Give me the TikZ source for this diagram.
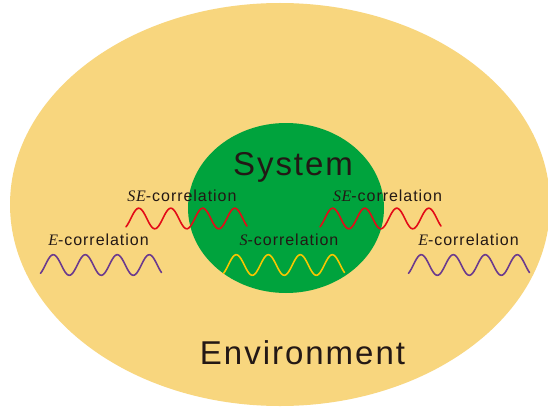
\documentclass[tikz,border=0pt]{standalone}
\usepackage{fontspec}
\setmainfont{Liberation Sans}
\newfontfamily\labfont[LetterSpace=6]{Liberation Sans}
\newfontfamily\bigfont[LetterSpace=6]{Liberation Sans}
\newfontfamily\varfont[LetterSpace=4]{Liberation Serif}
\newcommand{\vr}[1]{{\varfont\itshape #1}}
\definecolor{envcol}{HTML}{F8D67E}
\definecolor{syscol}{HTML}{00A33D}
\definecolor{redw}{HTML}{E30B17}
\definecolor{yelw}{HTML}{F7C600}
\definecolor{purw}{HTML}{6B3A8E}
\definecolor{txt}{HTML}{231815}
\tikzset{
  corrwave/.pic={\draw[pic actions, line width=1.6pt, line cap=round]
     plot[domain=0:121, samples=90, smooth] (\x, {-10.3*cos(11.25*(\x-12.8))});},
  lab/.style={anchor=base, text=txt, font=\labfont\fontsize{16pt}{19pt}\selectfont, inner sep=0pt},
  big/.style={anchor=base, text=txt, inner sep=0pt}
}
\begin{document}
\begin{tikzpicture}[x=1pt,y=-1pt]
\useasboundingbox (0,0) rectangle (548,409);
\fill[white] (0,0) rectangle (548,409);
\fill[envcol] (280,204.5) ellipse [x radius=270, y radius=201.5];
\fill[syscol] (286,208) ellipse [x radius=98, y radius=85];
\node[coordinate] (env) at (280,204.5) {};
\node[coordinate] (sys) at (286,208) {};
\node[big, font=\bigfont\fontsize{33pt}{38pt}\selectfont] (systxt) at (293,175) {System};
\node[big, font=\bigfont\fontsize{33pt}{38pt}\selectfont] (envtxt) at (302.5,364) {Environment};
\node[lab] (seL) at (182,201.5) {\vr{SE}-correlation};
\node[lab] (seR) at (387.5,201.5) {\vr{SE}-correlation};
\node[lab] (eL) at (98.5,245.5) {\vr{E}-correlation};
\node[lab] (eR) at (468.5,245.5) {\vr{E}-correlation};
\node[lab] (sC) at (289,245.5) {\vr{S}-correlation};
\pic[draw=redw] at (126,218.5) {corrwave};
\pic[draw=redw] at (320,218.5) {corrwave};
\pic[draw=purw] at (40.5,265) {corrwave};
\pic[draw=purw] at (408.5,265) {corrwave};
\pic[draw=yelw] at (223.5,265) {corrwave};
\end{tikzpicture}
\end{document}
